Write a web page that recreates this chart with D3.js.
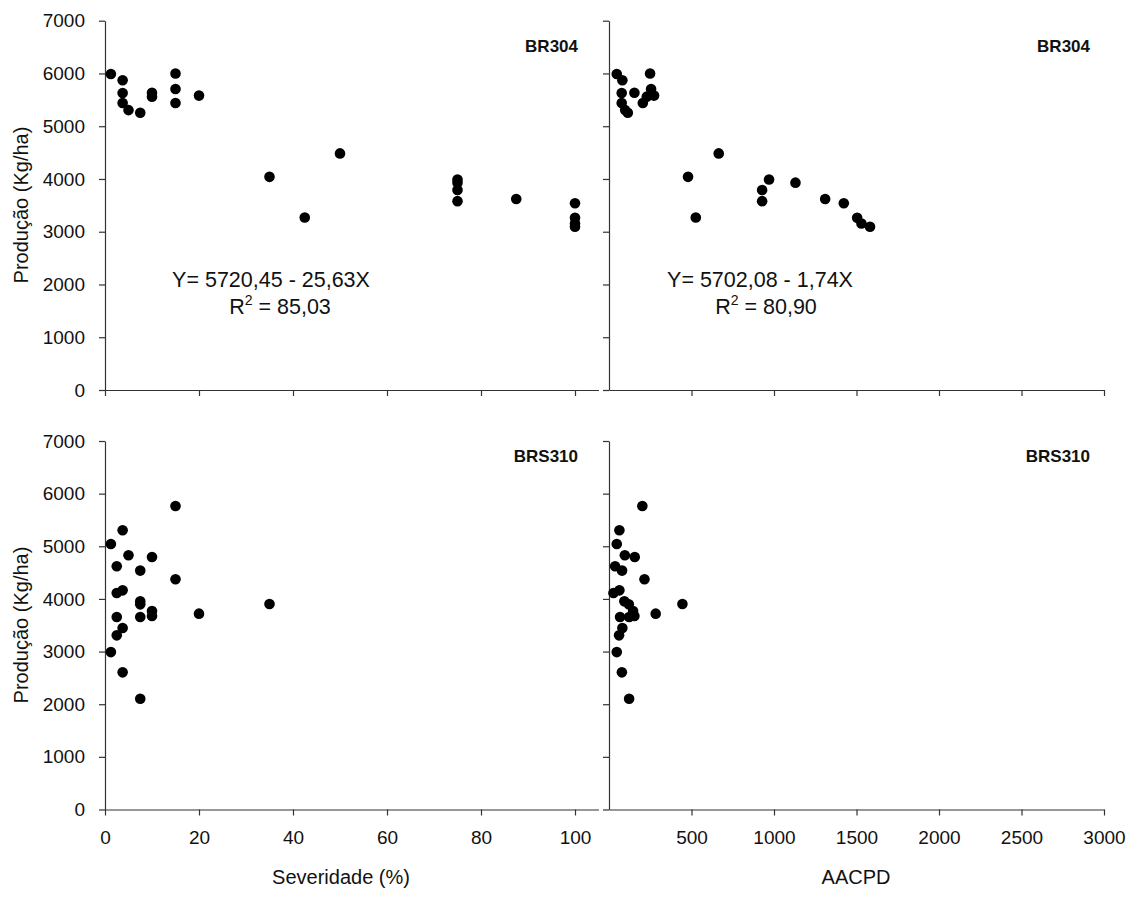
<!DOCTYPE html>
<html>
<head>
<meta charset="utf-8">
<script src="https://cdn.jsdelivr.net/npm/d3@7"></script>
<style>
body { margin:0; background:#fff; }
svg text { font-family: "Liberation Sans", Arial, sans-serif; fill:#111; }
.axis path, .axis line { stroke:#333; stroke-width:1.2; }
.axis text { font-size:19px; fill:#111; }
.panelLabel { font-size:17px; font-weight:bold; }
.eq { font-size:21.5px; }
.title { font-size:20px; }
</style>
</head>
<body>
<svg id="myGraph" width="1137" height="898"></svg>
<script>
// dados (BR304)
var sevBR304 = [1.25,3.75,3.75,3.75,5,7.5,10,10,15,15,15,20,35,42.5,50,75,75,75,75,87.5,100,100,100,100];
var aacpdBR304 = [47,81,77,77,98,114,154,229,249,255,205,273,479,526,665,970,1130,928,928,1310,1423,1504,1530,1582];
var prodBR304 = [5990,5870,5630,5440,5305,5255,5635,5560,6000,5705,5440,5580,4040,3270,4485,3990,3930,3790,3580,3620,3540,3265,3155,3095];

// dados (BRS310)
var sevBRS310 = [15,3.75,1.25,5,10,2.5,7.5,15,2.5,3.75,7.5,7.5,10,10,7.5,2.5,20,35,3.75,2.5,1.25,3.75,7.5];
var aacpdBRS310 = [202,63,47,96,156,37,79,215,27,63,93,120,146,154,122,67,283,445,81,61,47,78,122];
var prodBRS310 = [5766,5304,5044,4829,4797,4620,4538,4373,4113,4163,3954,3897,3770,3675,3656,3656,3720,3903,3447,3308,2990,2605,2105];

var yTicks = [0,1000,2000,3000,4000,5000,6000,7000];
var sevTicks = [0,20,40,60,80,100];
var aacpdTicks = [500,1000,1500,2000,2500,3000];

window.addEventListener("load",function(){
var svg = d3.select("#myGraph");

// escalas
var xSev = d3.scaleLinear().domain([0,105]).range([105,598.5]);
var xAacpd = d3.scaleLinear().domain([0,3000]).range([609,1104]);
var yTop = d3.scaleLinear().domain([0,7000]).range([390,20.7]);
var yBot = d3.scaleLinear().domain([0,7000]).range([809.5,441]);

drawPanel(xSev, yTop, sevBR304, prodBR304, sevTicks, false, true);
drawPanel(xAacpd, yTop, aacpdBR304, prodBR304, aacpdTicks, false, false);
drawPanel(xSev, yBot, sevBRS310, prodBRS310, sevTicks, true, true);
drawPanel(xAacpd, yBot, aacpdBRS310, prodBRS310, aacpdTicks, true, false);

function drawPanel(xs, ys, xData, yData, xTicks, showX, showY){
	var x0 = xs.range()[0];
	var y0 = ys.range()[0];

	// eixo Y
	var yAxis = d3.axisLeft(ys).tickValues(yTicks).tickSize(6).tickSizeOuter(0).tickPadding(14)
		.tickFormat(showY ? d3.format("d") : "");
	svg.append("g")
	.attr("class","axis")
	.attr("transform","translate("+x0+",0)")
	.call(yAxis);

	// eixo X
	var xAxis = d3.axisBottom(xs).tickValues(xTicks).tickSize(6).tickSizeOuter(0).tickPadding(15)
		.tickFormat(showX ? d3.format("d") : "");
	svg.append("g")
	.attr("class","axis")
	.attr("transform","translate(0,"+y0+")")
	.call(xAxis);

	// pontos
	svg.append("g")
	.selectAll("circle")
	.data(xData)
	.enter()
	.append("circle")
	.attr("cx", function(d){ return xs(d); })
	.attr("cy", function(d,i){ return ys(yData[i]); })
	.attr("r", 5.3)
	.attr("fill", "#000");
}

// rótulos dos painéis
function label(x, y, txt, cls){
	return svg.append("text").attr("x",x).attr("y",y).attr("class",cls).text(txt);
}
label(578, 52, "BR304", "panelLabel").attr("text-anchor","end");
label(1090, 52, "BR304", "panelLabel").attr("text-anchor","end");
label(578, 462, "BRS310", "panelLabel").attr("text-anchor","end");
label(1090, 462, "BRS310", "panelLabel").attr("text-anchor","end");

// equações
label(271, 287, "Y= 5720,45 - 25,63X", "eq").attr("text-anchor","middle");
label(760, 287, "Y= 5702,08 - 1,74X", "eq").attr("text-anchor","middle");
function r2(x, txt){
	var t = svg.append("text").attr("x",x).attr("y",314).attr("class","eq").attr("text-anchor","middle");
	t.append("tspan").text("R");
	t.append("tspan").attr("dy",-9).attr("font-size","14px").text("2");
	t.append("tspan").attr("dy",9).text(" = " + txt);
}
r2(280, "85,03");
r2(766, "80,90");

// títulos dos eixos
label(341, 884, "Severidade (%)", "title").attr("text-anchor","middle");
label(856, 884, "AACPD", "title").attr("text-anchor","middle");
svg.append("text").attr("class","title").attr("text-anchor","middle")
	.attr("transform","translate(28,205) rotate(-90)").text("Produção (Kg/ha)");
svg.append("text").attr("class","title").attr("text-anchor","middle")
	.attr("transform","translate(28,625) rotate(-90)").text("Produção (Kg/ha)");

});
</script>
</body>
</html>
